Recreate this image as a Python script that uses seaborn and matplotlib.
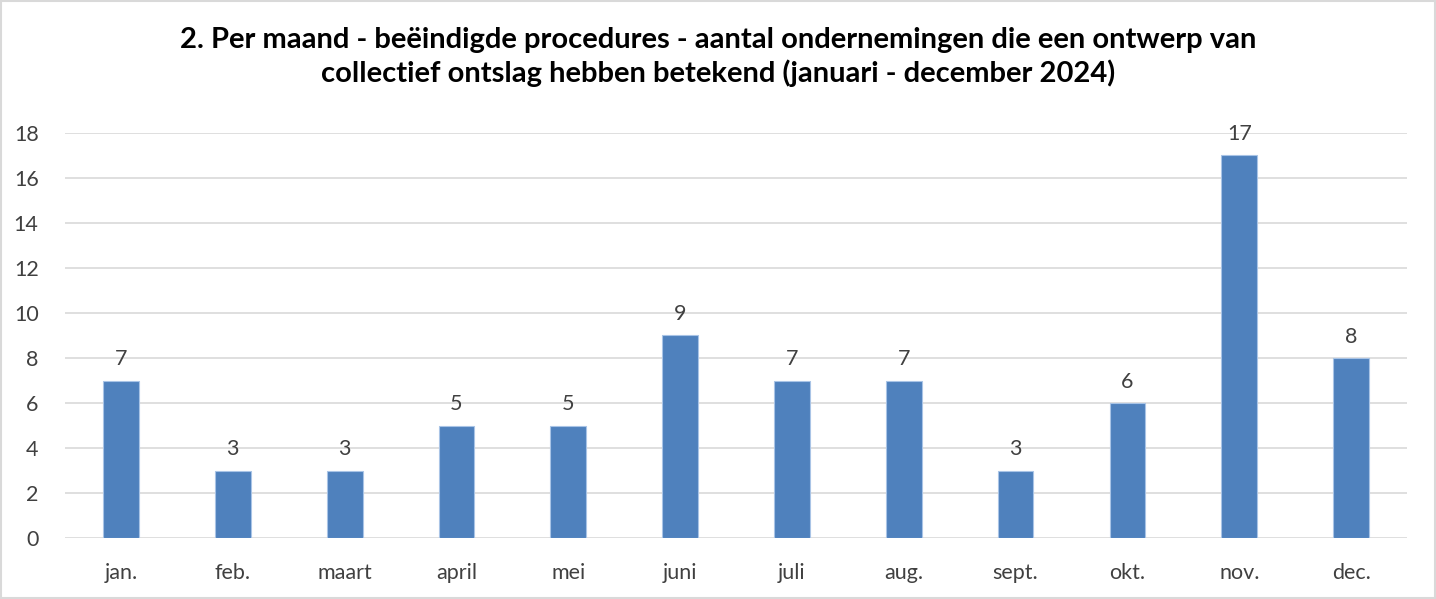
import pandas as pd
import matplotlib
matplotlib.use("Agg")
import matplotlib.pyplot as plt
import seaborn as sns

# chart data
months = ["jan.", "feb.", "maart", "april", "mei", "juni",
          "juli", "aug.", "sept.", "okt.", "nov.", "dec."]
counts = [7, 3, 3, 5, 5, 9, 7, 7, 3, 6, 17, 8]
yticks = [0, 2, 4, 6, 8, 10, 12, 14, 16, 18]

title = ("2. Per maand - beëindigde procedures - aantal ondernemingen die een ontwerp van\n"
         "collectief ontslag hebben betekend (januari - december 2024)")

df = pd.DataFrame({"maand": months, "aantal": counts})

sns.set_style("white")
plt.rcParams["font.family"] = ["Lato", "DejaVu Sans"]

fig = plt.figure(figsize=(14.36, 5.99), dpi=100)
ax = fig.add_axes([0.0453, 0.1018, 0.9345, 0.6762])

sns.barplot(data=df, x="maand", y="aantal", color="#4F81BD", saturation=1,
            width=0.32, edgecolor="#A9C4E6", linewidth=0.8, ax=ax)

# value labels above the bars
for bar, v in zip(ax.patches, counts):
    ax.text(bar.get_x() + bar.get_width() / 2, v + 0.5, str(v),
            ha="center", va="bottom", fontsize=15.5, color="#404040")

ax.set_ylim(0, 18)
ax.set_xlim(-0.5, 11.5)
ax.set_yticks(yticks)
ax.yaxis.grid(True, color="#D9D9D9", linewidth=1.2)
ax.set_axisbelow(True)
for s in ax.spines.values():
    s.set_visible(False)
ax.tick_params(axis="both", length=0, labelsize=15.5, labelcolor="#404040")
ax.tick_params(axis="x", pad=18)
ax.tick_params(axis="y", pad=19)
ax.set_xlabel("")
ax.set_ylabel("")

fig.text(0.5, 0.905, title, ha="center", va="center", fontsize=21,
         fontweight="bold", color="black", linespacing=1.25)

# light border round the whole chart
fig.patches.append(plt.Rectangle((0.001, 0.002), 0.998, 0.996, transform=fig.transFigure,
                                 fill=False, edgecolor="#D9D9D9", linewidth=1.5))

fig.savefig("out.png", dpi=100)
